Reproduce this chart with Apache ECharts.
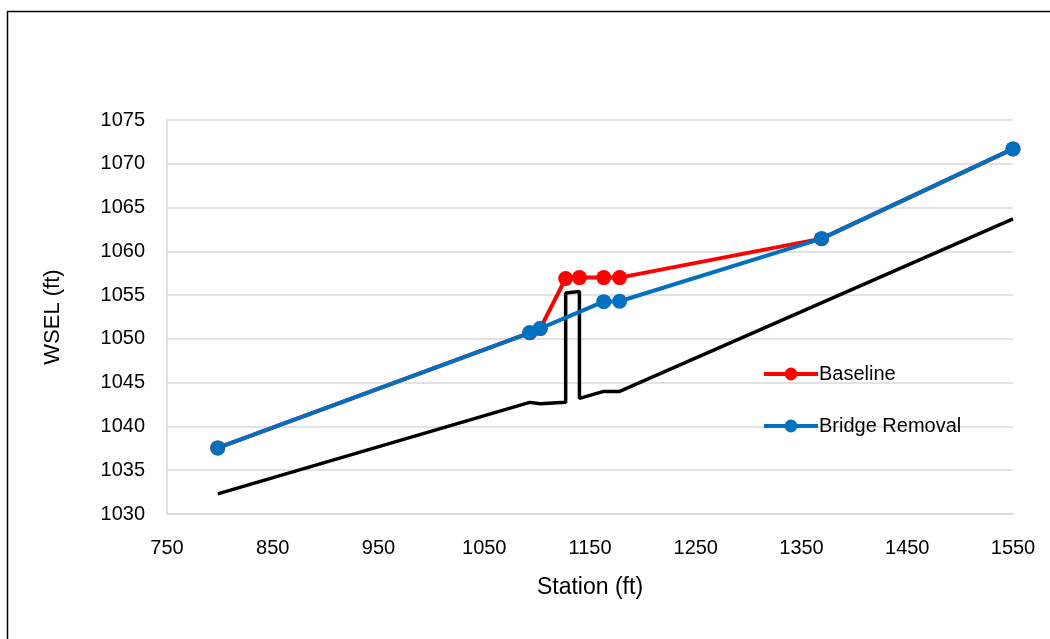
<!DOCTYPE html>
<html>
<head>
<meta charset="utf-8">
<script src="https://cdn.jsdelivr.net/npm/echarts@6/dist/echarts.min.js"></script>
<style>
html,body{margin:0;padding:0;background:#fff;}
#chart{width:1050px;height:639px;}
</style>
</head>
<body>
<div id="chart"></div>
<script>
// Ground / bridge profile (station, elevation)
const groundStation = [798, 1093, 1103, 1127, 1127, 1140, 1140, 1163, 1178, 1550];
const groundElev    = [1032.3, 1042.75, 1042.6, 1042.75, 1055.25, 1055.4, 1043.2, 1044.0, 1044.0, 1063.7];

// Baseline WSEL
const baselineStation = [798, 1093, 1103, 1127, 1140, 1163, 1178, 1369, 1550];
const baselineWSEL    = [1037.55, 1050.7, 1051.2, 1056.9, 1057.0, 1057.0, 1057.0, 1061.45, 1071.7];

// Bridge Removal WSEL
const removalStation = [798, 1093, 1103, 1163, 1178, 1369, 1550];
const removalWSEL    = [1037.55, 1050.7, 1051.2, 1054.25, 1054.3, 1061.45, 1071.7];

const xTicks = [750, 850, 950, 1050, 1150, 1250, 1350, 1450, 1550];
const yTicks = [1030, 1035, 1040, 1045, 1050, 1055, 1060, 1065, 1070, 1075];

const pairs = (xs, ys) => xs.map((x, i) => [x, ys[i]]);

const FONT = 'Liberation Sans';
const chart = echarts.init(document.getElementById('chart'), null, {renderer: 'canvas'});
chart.setOption({
  animation: false,
  backgroundColor: '#fff',
  textStyle: {fontFamily: FONT},
  graphic: [{
    type: 'rect',
    shape: {x: 7.5, y: 11.5, width: 1100, height: 700},
    style: {fill: 'none', stroke: '#000', lineWidth: 1.5},
    silent: true, z: -1
  }],
  grid: {left: 167, right: 37, top: 120, bottom: 125, containLabel: false, outerBoundsMode: 'none'},
  legend: {
    orient: 'vertical',
    left: 757,
    top: 359,
    itemWidth: 54,
    itemHeight: 16,
    itemGap: 32,
    data: ['Baseline', 'Bridge Removal'],
    lineStyle: {width: 4},
    textStyle: {fontFamily: FONT, fontSize: 20, color: '#000', padding: [0, 0, 0, -4]}
  },
  xAxis: {
    type: 'value',
    min: xTicks[0], max: xTicks[xTicks.length - 1], interval: 100,
    name: 'Station (ft)', nameLocation: 'middle', nameGap: 62,
    nameTextStyle: {fontFamily: FONT, fontSize: 23, color: '#000'},
    axisLine: {show: true, lineStyle: {color: '#d9d9d9', width: 1.5}},
    axisTick: {show: false},
    splitLine: {show: false},
    axisLabel: {fontFamily: FONT, fontSize: 20, color: '#000', margin: 24, formatter: v => String(v)}
  },
  yAxis: {
    type: 'value',
    min: yTicks[0], max: yTicks[yTicks.length - 1], interval: 5,
    name: 'WSEL (ft)', nameLocation: 'middle', nameGap: 103, nameRotate: 90,
    nameTextStyle: {fontFamily: FONT, fontSize: 22, color: '#000'},
    axisLine: {show: true, lineStyle: {color: '#d9d9d9', width: 1.5}},
    axisTick: {show: false},
    splitLine: {show: true, lineStyle: {color: '#d9d9d9', width: 1.5}},
    axisLabel: {fontFamily: FONT, fontSize: 20, color: '#000', margin: 22, formatter: v => String(v)}
  },
  series: [
    {
      name: 'Ground',
      type: 'line',
      data: pairs(groundStation, groundElev),
      symbol: 'none',
      lineStyle: {color: '#000', width: 3.5},
      itemStyle: {color: '#000'},
      z: 2
    },
    {
      name: 'Baseline',
      type: 'line',
      data: pairs(baselineStation, baselineWSEL),
      symbol: 'circle', symbolSize: 15,
      lineStyle: {color: '#ff0000', width: 4},
      itemStyle: {color: '#ff0000'},
      z: 3
    },
    {
      name: 'Bridge Removal',
      type: 'line',
      data: pairs(removalStation, removalWSEL),
      symbol: 'circle', symbolSize: 15,
      lineStyle: {color: '#0070c0', width: 4},
      itemStyle: {color: '#0070c0'},
      z: 4
    }
  ]
});
</script>
</body>
</html>
